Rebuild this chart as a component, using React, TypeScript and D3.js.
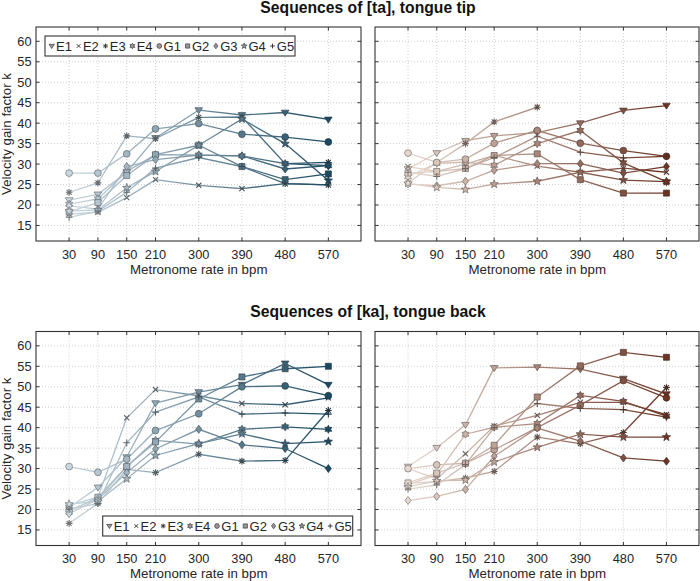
import React from 'react';
import * as d3 from 'd3';

// ---------- data ----------
const rates = [30, 90, 150, 210, 300, 390, 480, 570];
const seriesNames = ['E1', 'E2', 'E3', 'E4', 'G1', 'G2', 'G3', 'G4', 'G5'];
const markerTypes = ['v', 'x', '*', 'h', 'o', 's', 'd', 'p', '+'];
const yTicks = [15, 20, 25, 30, 35, 40, 45, 50, 55, 60];

// [ta], tongue tip — left panel (E1..G5)
const taLeft = [
  [21.2, 22.6, 28.0, 36.4, 43.2, 42.0, 42.6, 40.9],
  [17.8, 18.2, 21.8, 26.2, 24.8, 24.0, 25.2, 24.9],
  [23.1, 25.4, 36.9, 36.2, 41.4, 41.5, 30.1, 30.4],
  [20.2, 21.5, 28.2, 32.3, 32.2, 32.0, 30.1, 29.6],
  [27.8, 27.8, 32.5, 38.6, 39.9, 37.3, 36.6, 35.4],
  [18.3, 20.6, 27.2, 32.3, 34.6, 29.4, 26.2, 27.6],
  [19.8, 19.0, 29.4, 31.1, 32.2, 32.0, 28.8, 29.6],
  [18.5, 18.8, 24.2, 28.2, 34.6, 41.0, 35.0, 26.0],
  [17.0, 18.5, 23.1, 29.0, 31.6, 29.4, 25.2, 24.9],
];
// [ta], tongue tip — right panel
const taRight = [
  [28.8, 32.7, 35.7, 36.9, 37.7, 40.0, 43.1, 44.3],
  [29.4, 28.2, 30.0, 32.1, 29.5, 28.0, 29.0, 28.0],
  [25.4, 30.4, 35.0, 40.3, 43.9, NaN, NaN, NaN],
  [26.9, 30.2, 30.5, 29.7, 35.0, 38.2, 30.3, 25.7],
  [32.7, 30.4, 31.2, 35.1, 38.2, 35.1, 33.3, 31.9],
  [27.8, 28.2, 28.9, 32.1, 32.5, 26.2, 22.9, 22.9],
  [25.1, 24.7, 25.8, 28.5, 30.1, 30.1, 27.8, 29.4],
  [25.3, 24.3, 23.8, 25.1, 25.8, 28.0, 26.1, 25.7],
  [28.0, 27.0, 28.9, 31.6, 36.8, 32.9, 31.5, 31.9],
];
// [ka], tongue back — left panel
const kaLeft = [
  [20.5, 25.4, 32.8, 46.0, 48.7, 50.5, 55.7, 50.5],
  [21.0, 23.0, 42.4, 49.3, 47.8, 45.9, 45.6, 47.3],
  [16.6, 21.5, 29.8, 29.0, 33.5, 31.8, 32.0, 44.2],
  [20.0, 22.5, 30.5, 36.9, 36.0, 39.6, 40.2, 39.6],
  [30.5, 29.1, 32.3, 39.3, 43.4, 50.0, 50.2, 47.8],
  [19.5, 23.0, 30.5, 36.5, 47.0, 52.4, 54.4, 55.0],
  [19.0, 22.5, 29.0, 34.8, 39.6, 35.8, 34.9, 30.0],
  [21.3, 22.0, 27.5, 33.2, 36.1, 38.5, 36.1, 36.6],
  [20.0, 21.5, 36.3, 43.8, 47.5, 43.3, 43.6, 43.3],
];
// [ka], tongue back — right panel
const kaRight = [
  [30.5, 35.1, 40.7, 54.6, 54.8, 54.3, 52.0, 48.2],
  [30.0, 27.5, 33.6, 40.4, 43.0, 46.2, 46.2, 43.2],
  [26.4, 26.8, 27.7, 29.3, 37.7, 36.1, 38.8, 49.8],
  [26.0, 28.5, 38.4, 40.1, 41.0, 47.9, 46.4, 42.8],
  [30.0, 30.9, 31.3, 34.6, 40.0, 45.5, 51.5, 47.3],
  [26.5, 28.9, 31.3, 35.7, 47.5, 55.1, 58.4, 57.2],
  [22.2, 23.2, 24.9, 33.0, 39.9, 36.7, 32.6, 31.8],
  [25.5, 27.0, 27.2, 31.6, 35.2, 38.4, 37.7, 37.7],
  [25.0, 26.0, 31.0, 40.0, 45.9, 44.7, 44.4, 42.6],
];

const blueRamp = ['#cbd7df', '#1b4961'];
const brownRamp = ['#e6d8ce', '#6a3323'];

// ---------- helpers ----------
const FONT = '"Liberation Sans", Arial, Helvetica, sans-serif';

function starPath(n: number, ro: number, ri: number, rot: number): string {
  const pts: string[] = [];
  for (let i = 0; i < 2 * n; i++) {
    const r = i % 2 === 0 ? ro : ri;
    const a = rot + (Math.PI * i) / n;
    pts.push(`${(r * Math.cos(a)).toFixed(2)},${(r * Math.sin(a)).toFixed(2)}`);
  }
  return 'M' + pts.join('L') + 'Z';
}

function markerPath(m: string, k: number): string {
  switch (m) {
    case 'o': {
      const r = 3.4 * k;
      return `M${-r},0A${r},${r} 0 1,0 ${r},0A${r},${r} 0 1,0 ${-r},0Z`;
    }
    case 's': {
      const a = 3.0 * k;
      return `M${-a},${-a}H${a}V${a}H${-a}Z`;
    }
    case 'd': {
      const a = 4.0 * k;
      const b = 3.0 * k;
      return `M0,${-a}L${b},0L0,${a}L${-b},0Z`;
    }
    case 'v': {
      const a = 3.8 * k;
      return `M${-a},${-a * 0.62}L${a},${-a * 0.62}L0,${a * 0.95}Z`;
    }
    case 'p':
      return starPath(5, 4.4 * k, 1.8 * k, -Math.PI / 2);
    case 'h':
      return starPath(6, 4.0 * k, 2.3 * k, -Math.PI / 2);
    case 'x': {
      const a = 2.6 * k;
      return `M${-a},${-a}L${a},${a}M${-a},${a}L${a},${-a}`;
    }
    case '+': {
      const a = 3.4 * k;
      return `M${-a},0H${a}M0,${-a}V${a}`;
    }
    case '*': {
      const a = 3.4 * k;
      const b = a * 0.72;
      return `M${-a},0H${a}M0,${-a}V${a}M${-b},${-b}L${b},${b}M${-b},${b}L${b},${-b}`;
    }
  }
  return '';
}
const strokeOnly = new Set(['x', '+', '*']);

interface PanelProps {
  id: string;
  left: number;
  top: number;
  width: number;
  height: number;
  data: number[][];
  ramp: string[];
  showY: boolean;
}

function Panel({ id, left, top, width, height, data, ramp, showY }: PanelProps) {
  const x = d3.scaleLinear().domain([-39, 638]).range([left, left + width]);
  const y = d3.scaleLinear().domain([11.2, 63.5]).range([top + height, top]);
  const interp = d3.interpolateRgb(ramp[0], ramp[1]);
  const tOf = (r: number) => (r - rates[0]) / (rates[rates.length - 1] - rates[0]);
  const line = d3
    .line<number>()
    .defined((v) => !isNaN(v))
    .x((_, i) => x(rates[i]))
    .y((v) => y(v));
  const gradId = `grad-${id}`;
  const stops = d3.range(0, 1.0001, 0.1);
  const frame = '#333333';
  const tick = 3.5;

  return (
    <g>
      <defs>
        <linearGradient
          id={gradId}
          gradientUnits="userSpaceOnUse"
          x1={x(rates[0])}
          x2={x(rates[rates.length - 1])}
          y1={0}
          y2={0}
        >
          {stops.map((s) => (
            <stop key={s} offset={s} stopColor={interp(s)} />
          ))}
        </linearGradient>
      </defs>
      <rect x={left} y={top} width={width} height={height} fill="#ffffff" />
      {/* grid */}
      {rates.map((r) => (
        <line
          key={'gx' + r}
          x1={x(r)}
          x2={x(r)}
          y1={top}
          y2={top + height}
          stroke="#c4c4c4"
          strokeWidth={0.8}
          strokeDasharray="1 2"
        />
      ))}
      {yTicks.map((t) => (
        <line
          key={'gy' + t}
          x1={left}
          x2={left + width}
          y1={y(t)}
          y2={y(t)}
          stroke="#c4c4c4"
          strokeWidth={0.8}
          strokeDasharray="1 2"
        />
      ))}
      {/* lines */}
      {data.map((s, si) => (
        <path
          key={'l' + si}
          d={line(s) || ''}
          fill="none"
          stroke={`url(#${gradId})`}
          strokeWidth={1.3}
        />
      ))}
      {/* markers */}
      {data.map((s, si) =>
        s.map((v, i) => {
          if (isNaN(v)) return null;
          const c = interp(tOf(rates[i]));
          const m = markerTypes[si];
          const edge = d3.interpolateRgb(c, '#262626')(0.55);
          return (
            <path
              key={'m' + si + '-' + i}
              d={markerPath(m, 1)}
              transform={`translate(${x(rates[i])},${y(v)})`}
              fill={strokeOnly.has(m) ? 'none' : c}
              stroke={edge}
              strokeWidth={strokeOnly.has(m) ? 1.1 : 0.7}
            />
          );
        })
      )}
      {/* frame */}
      <rect x={left} y={top} width={width} height={height} fill="none" stroke={frame} strokeWidth={1.1} />
      {rates.map((r) => (
        <g key={'tx' + r}>
          <line x1={x(r)} x2={x(r)} y1={top + height} y2={top + height - tick} stroke={frame} />
          <line x1={x(r)} x2={x(r)} y1={top} y2={top + tick} stroke={frame} />
          <text
            x={x(r)}
            y={top + height + 17.5}
            textAnchor="middle"
            fontSize={12.8}
            fill="#262626"
            fontFamily={FONT}
          >
            {r}
          </text>
        </g>
      ))}
      {yTicks.map((t) => (
        <g key={'ty' + t}>
          <line x1={left} x2={left + tick} y1={y(t)} y2={y(t)} stroke={frame} />
          <line x1={left + width} x2={left + width - tick} y1={y(t)} y2={y(t)} stroke={frame} />
          {showY && (
            <text
              x={left - 4.5}
              y={y(t)}
              dy="0.35em"
              textAnchor="end"
              fontSize={12.8}
              fill="#262626"
              fontFamily={FONT}
            >
              {t}
            </text>
          )}
        </g>
      ))}
      <text
        x={(x(rates[0]) + x(rates[rates.length - 1])) / 2}
        y={top + height + 32.5}
        textAnchor="middle"
        fontSize={13.3}
        fill="#262626"
        fontFamily={FONT}
      >
        Metronome rate in bpm
      </text>
      {showY && (
        <text
          transform={`translate(10.5,${top + height / 2}) rotate(-90)`}
          textAnchor="middle"
          fontSize={13.3}
          fill="#262626"
          fontFamily={FONT}
        >
          Velocity gain factor k
        </text>
      )}
    </g>
  );
}

function Legend({ left, top }: { left: number; top: number }) {
  const w = 250;
  const h = 20;
  let cx = left + 6.7;
  const items = seriesNames.map((n, i) => {
    const tw = n.startsWith('E') ? 15.9 : 17.3;
    const item = { n, m: markerTypes[i], sx: cx, tx: cx + 4.3 };
    cx += 4.3 + tw + 6.7;
    return item;
  });
  return (
    <g>
      <rect x={left} y={top} width={w} height={h} fill="#ffffff" stroke="#333333" strokeWidth={1.1} />
      {items.map((it) => (
        <g key={it.n}>
          <path
            d={markerPath(it.m, 0.7)}
            transform={`translate(${it.sx},${top + h / 2})`}
            fill={strokeOnly.has(it.m) ? 'none' : '#9a9a9a'}
            stroke="#3a3a3a"
            strokeWidth={strokeOnly.has(it.m) ? 1 : 0.7}
          />
          <text x={it.tx} y={top + h / 2} dy="0.36em" fontSize={13} fill="#262626" fontFamily={FONT}>
            {it.n}
          </text>
        </g>
      ))}
    </g>
  );
}

export default function App() {
  const L = { left: 36, width: 325 };
  const R = { left: 375, width: 324 };
  const topRow = { top: 27, height: 214 };
  const botRow = { top: 331.5, height: 214 };
  return (
    <svg
      width={700}
      height={581}
      viewBox="0 0 700 581"
      style={{ position: 'absolute', left: 0, top: 0, background: '#ffffff' }}
      fontFamily={FONT}
    >
      <rect x={0} y={0} width={700} height={581} fill="#ffffff" />
      <text x={368} y={12.5} textAnchor="middle" fontSize={15.7} fontWeight="bold" fill="#111">
        Sequences of [ta], tongue tip
      </text>
      <text x={368} y={316.5} textAnchor="middle" fontSize={15.7} fontWeight="bold" fill="#111">
        Sequences of [ka], tongue back
      </text>
      <Panel id="tl" {...L} {...topRow} data={taLeft} ramp={blueRamp} showY={true} />
      <Panel id="tr" {...R} {...topRow} data={taRight} ramp={brownRamp} showY={false} />
      <Panel id="bl" {...L} {...botRow} data={kaLeft} ramp={blueRamp} showY={true} />
      <Panel id="br" {...R} {...botRow} data={kaRight} ramp={brownRamp} showY={false} />
      <Legend left={45} top={36} />
      <Legend left={102.7} top={516} />
    </svg>
  );
}
